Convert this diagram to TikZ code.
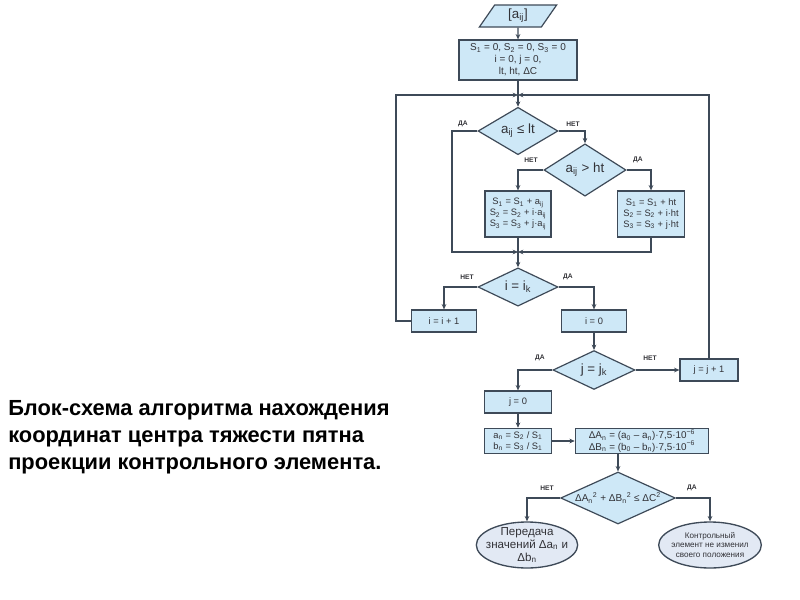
\documentclass[tikz,border=0pt]{standalone}
\usepackage{fontspec}
\setmainfont{Liberation Sans}
\usetikzlibrary{calc,positioning}
\usetikzlibrary{shapes.geometric,arrows.meta}
\definecolor{boxfill}{RGB}{206,232,247}
\definecolor{ellfill}{RGB}{226,233,244}
\definecolor{edge}{RGB}{62,74,88}
\definecolor{txt}{RGB}{50,50,55}
\newcommand\lo[1]{\textsubscript{#1}}
\newcommand\up[1]{\textsuperscript{#1}}

\begin{document}
\begin{tikzpicture}[x=0.75pt,y=-0.75pt,
blk/.style={rectangle,draw=edge,fill=boxfill,line width=0.9pt,text=txt,
  align=center,inner sep=1pt,font=\fontsize{7}{8.2}\selectfont},
dec/.style={diamond,draw=edge,fill=boxfill,line width=0.9pt,text=txt,
  inner sep=0pt,align=center,font=\fontsize{10}{11}\selectfont},
term/.style={ellipse,draw=edge,fill=ellfill,line width=1pt,text=txt,
  inner sep=-4pt,align=center},
lbl/.style={text=txt,inner sep=0pt,font=\fontsize{5}{6}\bfseries\selectfont},
arr/.style={draw=edge,line width=0.9pt,-{Stealth[length=4pt,width=3.5pt]}},
ln/.style={draw=edge,line width=0.9pt}]
\useasboundingbox (0,0) rectangle (800,600);
% caption
\node[anchor=north west,align=left,inner sep=0pt,
font=\fontsize{16.4}{20.3}\bfseries\selectfont](cap) at (8,400)
{Блок-схема алгоритма нахождения\\координат центра тяжести пятна\\проекции контрольного элемента.};
% blocks
\node[trapezium,trapezium left angle=65,trapezium right angle=115,
trapezium stretches=true,draw=edge,fill=boxfill,line width=0.9pt,text=txt,
minimum width=58pt,minimum height=16.5pt,inner sep=0pt,
font=\fontsize{10}{11}\selectfont](in) at (518,16) {[a\lo{ij}]};
\node[blk,minimum width=88.5pt,minimum height=30pt,
font=\fontsize{7.5}{9}\selectfont](init) at (518,60)
{S\lo1 = 0, S\lo2 = 0, S\lo3 = 0\\i = 0, j = 0,\\lt, ht, ΔC};
\coordinate (m1) at (518,95);
\coordinate (lft) at (396,95);
\node[dec,minimum width=60pt,minimum height=28.5pt](d1) at (518,131) {a\lo{ij} ≤ lt};
\node[dec,minimum width=61.5pt,minimum height=27pt](d2) at (585,170) {a\lo{ij} > ht};
\node[blk,minimum width=49.5pt,minimum height=34.5pt](b3) at (518,214)
{S\lo1 = S\lo1 + a\lo{ij}\\S\lo2 = S\lo2 + i·a\lo{ij}\\S\lo3 = S\lo3 + j·a\lo{ij}};
\node[blk,minimum width=50pt,minimum height=34.5pt](b4) at (651,214)
{S\lo1 = S\lo1 + ht\\S\lo2 = S\lo2 + i·ht\\S\lo3 = S\lo3 + j·ht};
\coordinate (m2) at (518,252);
\coordinate (l2) at (452,252);
\node[dec,minimum width=60pt,minimum height=27pt](d3) at (518,287) {i = i\lo{k}};
\node[blk,minimum width=48.5pt,minimum height=16.5pt](inc) at (444,321) {i = i + 1};
\node[blk,minimum width=48.5pt,minimum height=16.5pt](iz) at (594,321) {i = 0};
\node[dec,minimum width=61.5pt,minimum height=28.5pt](d4) at (594,370) {j = j\lo{k}};
\node[blk,minimum width=43.5pt,minimum height=16.5pt](incj) at (709,370) {j = j + 1};
\node[blk,minimum width=50pt,minimum height=16.5pt](j0) at (518,402) {j = 0};
\node[blk,minimum width=50pt,minimum height=19pt](an) at (518,441)
{a\lo{n} = S\lo2 / S\lo1\\b\lo{n} = S\lo3 / S\lo1};
\node[blk,minimum width=100pt,minimum height=19pt,
font=\fontsize{7.4}{8.4}\selectfont](dA) at (642,441)
{ΔA\lo{n} = (a\lo0 – a\lo{n})·7,5·10\up{−6}\\ΔB\lo{n} = (b\lo0 – b\lo{n})·7,5·10\up{−6}};
\node[dec,minimum width=86pt,minimum height=39pt,shape aspect=2.2,
font=\fontsize{7.5}{9}\selectfont](d5) at (618,498)
{ΔA\lo{n}\up{2} + ΔB\lo{n}\up{2} ≤ ΔC\up{2}};
\node[term,minimum width=76pt,minimum height=34.5pt,
font=\fontsize{8.7}{9.8}\selectfont](e1) at (527,545)
{Передача\\значений Δa\lo{n} и\\Δb\lo{n}};
\node[term,minimum width=77pt,minimum height=34.5pt,
font=\fontsize{6.1}{7.4}\selectfont](e2) at (710,545)
{Контрольный\\элемент не изменил\\своего положения};
% labels
\node[lbl](y1) at (463,124) {ДА};
\node[lbl](n1) at (573,124) {НЕТ};
\node[lbl](n2) at (531,160) {НЕТ};
\node[lbl](y2) at (638,160) {ДА};
\node[lbl](n3) at (467,277) {НЕТ};
\node[lbl](y3) at (568,277) {ДА};
\node[lbl](y4) at (540,358) {ДА};
\node[lbl](n4) at (650,358) {НЕТ};
\node[lbl](n5) at (547,488) {НЕТ};
\node[lbl](y5) at (692,488) {ДА};
% connectors
\draw[arr] (in) -- (init);
\draw[arr] (init) -- (d1);
\draw[arr] (inc.west) -| (lft) -- (m1);
\draw[arr] (incj.north) |- (m1);
\draw[arr] (d1.west) -| (l2) -- (m2);
\draw[arr] (d1.east) -| (d2.north);
\draw[arr] (d2.west) -| (b3.north);
\draw[arr] (d2.east) -| (b4.north);
\draw[arr] (b3) -- (d3);
\draw[arr] (b4.south) |- (m2);
\draw[arr] (d3.west) -| (inc.north);
\draw[arr] (d3.east) -| (iz.north);
\draw[arr] (iz) -- (d4);
\draw[arr] (d4) -- (incj);
\draw[arr] (d4.west) -| (j0.north);
\draw[arr] (j0) -- (an);
\draw[arr] (an) -- (dA);
\draw[arr] (d5.north |- dA.south) -- (d5.north);
\draw[arr] (d5.west) -| (e1.north);
\draw[arr] (d5.east) -| (e2.north);
\end{tikzpicture}
\end{document}
